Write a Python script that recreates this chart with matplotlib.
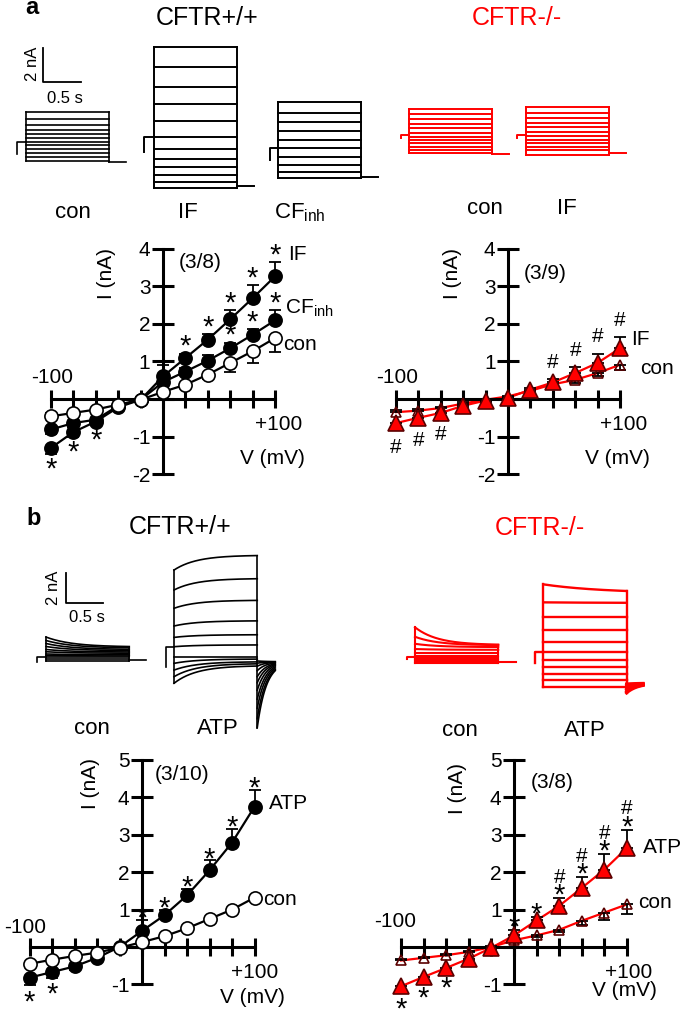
import numpy as np
import matplotlib.pyplot as plt

plt.rcParams['font.family'] = ['Liberation Sans', 'DejaVu Sans']
plt.rcParams['mathtext.default'] = 'regular'

RED = '#ff0000'

# ---------------- data (I in nA, V in mV) ----------------
V = np.arange(-100, 101, 20)

# panel a, CFTR+/+
a_con = [-0.46, -0.37, -0.28, -0.15, -0.02, 0.19, 0.38, 0.65, 0.96, 1.27, 1.62]
a_con_err = [0.08, 0.06, 0.05, 0.04, 0.03, 0.06, 0.08, 0.13, 0.25, 0.3, 0.38]
a_if = [-1.30, -0.88, -0.6, -0.22, -0.02, 0.60, 1.09, 1.58, 2.12, 2.68, 3.26]
a_if_err = [0.15, 0.12, 0.08, 0.05, 0.03, 0.3, 0.12, 0.15, 0.24, 0.34, 0.38]
a_cf = [-0.81, -0.64, -0.55, -0.18, -0.02, 0.45, 0.73, 1.02, 1.35, 1.71, 2.09]
a_cf_err = [0.12, 0.1, 0.07, 0.04, 0.03, 0.1, 0.1, 0.15, 0.15, 0.15, 0.28]
a_if_star = [1, 1, 1, 0, 0, 0, 1, 1, 1, 1, 1]
a_cf_star = [0, 0, 0, 0, 0, 0, 0, 1, 1, 1, 1]

# panel a, CFTR-/-
a_ko_con = [-0.35, -0.31, -0.24, -0.12, -0.02, 0.07, 0.22, 0.39, 0.51, 0.69, 0.91]
a_ko_con_err = [0.05, 0.05, 0.04, 0.03, 0.02, 0.03, 0.04, 0.05, 0.08, 0.09, 0.15]
a_ko_if = [-0.64, -0.5, -0.37, -0.18, -0.04, 0.03, 0.25, 0.44, 0.69, 0.96, 1.35]
a_ko_if_err = [0.18, 0.12, 0.1, 0.06, 0.03, 0.03, 0.05, 0.1, 0.15, 0.25, 0.3]
a_ko_if_hash = [1, 1, 1, 0, 0, 0, 0, 1, 1, 1, 1]

# panel b, CFTR+/+
b_con = [-0.45, -0.34, -0.24, -0.15, -0.02, 0.13, 0.29, 0.5, 0.75, 1.0, 1.32]
b_con_err = [0.03] * 11
b_atp = [-0.82, -0.67, -0.52, -0.29, 0.0, 0.43, 0.85, 1.38, 2.05, 2.79, 3.75]
b_atp_err = [0.2, 0.15, 0.1, 0.06, 0.04, 0.3, 0.15, 0.18, 0.27, 0.37, 0.46]
b_atp_star = [1, 1, 0, 0, 0, 1, 1, 1, 1, 1, 1]

# panel b, CFTR-/-
b_ko_con = [-0.36, -0.29, -0.22, -0.13, 0.0, 0.18, 0.31, 0.46, 0.7, 0.92, 1.14]
b_ko_con_err = [0.03, 0.03, 0.03, 0.03, 0.02, 0.05, 0.05, 0.06, 0.1, 0.2, 0.25]
b_ko_atp = [-1.05, -0.8, -0.56, -0.31, -0.02, 0.31, 0.71, 1.1, 1.58, 2.07, 2.65]
b_ko_atp_err = [0.18, 0.12, 0.1, 0.06, 0.04, 0.15, 0.1, 0.2, 0.29, 0.41, 0.49]
b_ko_atp_star = [1, 1, 1, 0, 0, 1, 1, 1, 1, 1, 1]
b_ko_atp_hash = [0, 0, 0, 0, 0, 0, 0, 1, 1, 1, 1]

# example current traces: step levels (nA, relative to holding)
tr_a_con = [1.76, 1.32, 0.98, 0.69, 0.44, 0.24, 0.0, -0.19, -0.43, -0.65, -0.88, -1.12]
tr_a_if = [5.33, 4.12, 2.98, 1.96, 0.96, 0.0, -0.69, -1.29, -1.76, -2.22, -2.61, -3.0]
tr_a_cf = [2.74, 2.06, 1.56, 1.02, 0.49, 0.0, -0.49, -0.98, -1.38, -1.76]
tr_a_ko_con = [1.51, 1.24, 0.92, 0.65, 0.39, 0.14, -0.1, -0.29, -0.49, -0.69, -0.88, -1.08]
tr_a_ko_if = [1.63, 1.3, 0.98, 0.7, 0.45, 0.18, -0.06, -0.27, -0.47, -0.68, -0.9, -1.18]

tr_b_con_on = [1.33, 1.1, 0.9, 0.7, 0.5, 0.35, 0.2, 0.1, 0.0, -0.12, -0.27]
tr_b_con_ss = [0.67, 0.6, 0.5, 0.42, 0.33, 0.25, 0.15, 0.07, 0.0, -0.12, -0.27]
tr_b_atp_on = [5.11, 3.78, 2.56, 1.38, 0.62, 0.0, -0.71, -1.11, -1.56, -2.0, -2.44]
tr_b_atp_ss = [6.1, 4.55, 3.1, 1.73, 0.8, 0.12, -0.71, -0.82, -1.0, -1.12, -1.26]
tr_b_atp_tail = [-5.4, -4.8, -4.1, -3.5, -2.9, -2.4, -2.0, -1.6, -1.3, -1.1, -0.95]
tr_b_ko_con_on = [2.0, 1.37, 0.9, 0.55, 0.3, 0.12, 0.0, -0.1, -0.2, -0.3, -0.4]
tr_b_ko_con_ss = [0.82, 0.8, 0.68, 0.5, 0.3, 0.12, 0.0, -0.1, -0.2, -0.3, -0.4]
tr_b_ko_atp_on = [4.49, 3.29, 2.33, 1.45, 0.67, 0.0, -0.55, -1.04, -1.49, -1.89, -2.33]
tr_b_ko_atp_ss = [3.9, 3.25, 2.33, 1.45, 0.67, 0.0, -0.55, -1.04, -1.49, -1.89, -2.33]
tr_b_ko_atp_tail = [-2.75, -2.65, -2.55, -2.45, -2.35, -2.25, -2.15]

# ---------------- figure ----------------
W, H = 685, 1010
fig = plt.figure(figsize=(6.85, 10.1), dpi=100)


def rect(left, top, width, height):
    return [left / W, 1 - (top + height) / H, width / W, height / H]


def ftext(x, y, s, va='center', **kw):
    fig.text(x / W, 1 - y / H, s, ha='center', va=va, **kw)


def trace_axes(x0, y0, spx, spy):
    xl, yl = (-0.3, 1.6), (-7, 7)
    ax = fig.add_axes(rect(x0 + xl[0] * spx, y0 - yl[1] * spy,
                           (xl[1] - xl[0]) * spx, (yl[1] - yl[0]) * spy))
    ax.set_xlim(xl)
    ax.set_ylim(yl)
    ax.axis('off')
    return ax


def family(ax, on, ss, tau, color, pre, dip, tails0, tail_ss, tail_tau,
           dur=1.09, tail_len=0.22, lw=1.2, tail_lw=None):
    t = np.linspace(0, dur, 200)
    ends = []
    for a, b in zip(on, ss):
        y = b + (a - b) * np.exp(-t / tau)
        ax.plot(t, y, color=color, lw=lw)
        ends.append(y[-1])
    tt = np.linspace(0, tail_len, 80)
    for a in tails0:
        ax.plot(dur + tt, tail_ss + (a - tail_ss) * np.exp(-tt / tail_tau), color=color,
                lw=tail_lw or lw)
    ax.plot([0, 0], [min(on), max(on)], color=color, lw=lw)
    ax.plot([dur, dur], [min(min(ends), min(tails0)), max(ends)], color=color, lw=lw)
    ax.plot([-pre, -pre, 0], [dip, 0, 0], color=color, lw=lw)


def scalebar(ax, t, y):
    ax.plot([t, t, t + 0.5], [y + 2, y, y], color='black', lw=1.3)


def iv_axes(ox, oy, sx, sy, yticks):
    xl = (-130, 130)
    yl = (yticks[0] - 0.5, yticks[-1] + 0.5)
    ax = fig.add_axes(rect(ox + xl[0] * sx, oy - yl[1] * sy,
                           (xl[1] - xl[0]) * sx, (yl[1] - yl[0]) * sy))
    ax.set_xlim(xl)
    ax.set_ylim(yl)
    ax.patch.set_visible(False)
    ax.spines['top'].set_visible(False)
    ax.spines['right'].set_visible(False)
    ax.spines['left'].set_position(('data', 0))
    ax.spines['bottom'].set_position(('data', 0))
    ax.spines['left'].set_bounds(yticks[0], yticks[-1])
    ax.spines['bottom'].set_bounds(-100, 100)
    ax.spines['left'].set_linewidth(2.2)
    ax.spines['bottom'].set_linewidth(2.2)
    ax.set_xticks(V)
    ax.set_xticklabels([])
    ax.set_yticks(yticks)
    ax.set_yticklabels(['' if v == 0 else str(v) for v in yticks])
    ax.tick_params(axis='x', direction='inout', length=13, width=2.2)
    ax.tick_params(axis='y', direction='inout', length=16, width=2.2, labelsize=15, pad=1)
    return ax


def series(ax, y, err, up, lcolor, marker, ms, mfc, mec):
    y = np.asarray(y)
    err = np.asarray(err)
    up = np.asarray(up, bool)
    ax.plot(V, y, color=lcolor, lw=1.6, zorder=2)
    ax.errorbar(V, y, yerr=[np.where(up, 0, err), np.where(up, err, 0)], fmt='none',
                ecolor='black', elinewidth=1.3, capsize=4, capthick=1.3, zorder=2.5)
    ax.plot(V, y, ls='none', marker=marker, ms=ms, mfc=mfc, mec=mec, mew=1.2, zorder=3)


def marks(ax, y, err, up, flags, s, dy_up, dy_dn, fs=21):
    for v, yy, e, u, f in zip(V, y, err, up, flags):
        if not f:
            continue
        base = yy + e if u else yy - e
        ax.annotate(s, (v, base), xytext=(0, dy_up if u else dy_dn), textcoords='offset points',
                    ha='center', va='baseline', fontsize=fs, zorder=4)


def iv_text(ax, x_m100, y_m100, x_p100, y_p100, x_v, y_v, xl, yl, n_text, xn, yn):
    ax.text(x_m100, y_m100, '-100', ha='center', va='center', fontsize=15)
    ax.text(x_p100, y_p100, '+100', ha='center', va='center', fontsize=15)
    ax.text(x_v, y_v, 'V (mV)', ha='center', va='center', fontsize=15)
    ax.text(xl, yl, 'I (nA)', ha='center', va='center', rotation=90, fontsize=15)
    ax.text(xn, yn, n_text, ha='center', va='center', fontsize=15)


neg = V < 0
pos0 = V >= 0

# ---------------- panel a ----------------
ftext(32, 14, 'a', va='baseline', fontsize=17, fontweight='bold')
ftext(207, 18, 'CFTR+/+', fontsize=18)
ftext(517, 18, 'CFTR-/-', fontsize=18, color=RED)

SA_X, SA_Y = 76, 17
ax = trace_axes(26, 141.7, SA_X, SA_Y)
family(ax, tr_a_con, tr_a_con, 1, 'black', 0.12, -0.72, [-1.18], -1.18, 1)
scalebar(ax, 0.22, 3.5)
ax.text(0.09, 4.6, '2 nA', rotation=90, ha='center', va='center', fontsize=12)
ax.text(0.51, 2.55, '0.5 s', ha='center', va='center', fontsize=12)
ax = trace_axes(154, 137.3, SA_X, SA_Y)
family(ax, tr_a_if, tr_a_if, 1, 'black', 0.13, -0.86, [-2.88], -2.88, 1, lw=1.4)
ax = trace_axes(278, 148.3, SA_X, SA_Y)
family(ax, tr_a_cf, tr_a_cf, 1, 'black', 0.1, -0.7, [-1.7], -1.7, 1, lw=1.4)
ax = trace_axes(409, 135, SA_X, SA_Y)
family(ax, tr_a_ko_con, tr_a_ko_con, 1, RED, 0.1, -0.2, [-1.12], -1.12, 1, lw=1.4)
ax = trace_axes(526, 135, SA_X, SA_Y)
family(ax, tr_a_ko_if, tr_a_ko_if, 1, RED, 0.12, -0.2, [-1.03], -1.03, 1, lw=1.4)

ftext(73, 213, 'con', fontsize=16)
ftext(188, 213, 'IF', fontsize=16)
ftext(300, 213, 'CF$_{inh}$', fontsize=16)
ftext(485, 208, 'con', fontsize=16)
ftext(567, 208, 'IF', fontsize=16)

# IV a, CFTR+/+
ax = iv_axes(163, 399, 1.12, 37.6, [-2, -1, 0, 1, 2, 3, 4])
series(ax, a_if, a_if_err, pos0, 'black', 'o', 9.5, 'black', 'black')
series(ax, a_cf, a_cf_err, pos0, 'black', 'o', 9.5, 'black', 'black')
series(ax, a_con, a_con_err, neg, 'black', 'o', 9.5, 'white', 'black')
marks(ax, a_if, a_if_err, pos0, a_if_star, '*', -1, -17)
marks(ax, a_cf, a_cf_err, pos0, a_cf_star, '*', -1, -17)
ax.text(112, 3.83, 'IF', ha='left', va='center', fontsize=15)
ax.text(109, 2.42, 'CF$_{inh}$', ha='left', va='center', fontsize=15)
ax.text(107, 1.44, 'con', ha='left', va='center', fontsize=15)
iv_text(ax, -99, 0.56, 103, -0.69, 98, -1.57, -50, 3.35, '(3/8)', 33, 3.64)

# IV a, CFTR-/-
ax = iv_axes(508, 399, 1.12, 37.6, [-2, -1, 0, 1, 2, 3, 4])
series(ax, a_ko_con, a_ko_con_err, neg, RED, '^', 7.5, 'none', '#5a0000')
series(ax, a_ko_if, a_ko_if_err, pos0, RED, '^', 11, RED, '#5a0000')
marks(ax, a_ko_if, a_ko_if_err, pos0, a_ko_if_hash, '#', 8, -17, fs=15)
ax.text(110, 1.57, 'IF', ha='left', va='center', fontsize=15)
ax.text(118, 0.82, 'con', ha='left', va='center', fontsize=15)
iv_text(ax, -99, 0.56, 103, -0.69, 98, -1.57, -50, 3.35, '(3/9)', 33, 3.35)

# ---------------- panel b ----------------
ftext(34, 525, 'b', va='baseline', fontsize=17, fontweight='bold')
ftext(180, 527, 'CFTR+/+', fontsize=18)
ftext(540, 528, 'CFTR-/-', fontsize=18, color=RED)

SB_X, SB_Y = 75, 15
ax = trace_axes(46, 657, SB_X, SB_Y)
family(ax, tr_b_con_on, tr_b_con_ss, 0.35, 'black', 0.12, -0.3, [-0.2], -0.2, 1, dur=1.11)
scalebar(ax, 0.26, 3.6)
ax.text(0.1, 4.6, '2 nA', rotation=90, ha='center', va='center', fontsize=12)
ax.text(0.55, 2.6, '0.5 s', ha='center', va='center', fontsize=12)
ax = trace_axes(174, 646.7, SB_X, SB_Y)
family(ax, tr_b_atp_on, tr_b_atp_ss, 0.3, 'black', 0.11, -1.33,
       tr_b_atp_tail, -1.0, 0.12, dur=1.11, tail_len=0.24)
ax = trace_axes(415, 657.3, SB_X, SB_Y)
family(ax, tr_b_ko_con_on, tr_b_ko_con_ss, 0.3, RED, 0.11, -0.13, [-0.31], -0.31, 1,
       dur=1.11, tail_len=0.23, lw=1.5)
ax = trace_axes(543.3, 651.7, SB_X, SB_Y)
family(ax, tr_b_ko_atp_on, tr_b_ko_atp_ss, 0.8, RED, 0.11, -0.77,
       tr_b_ko_atp_tail, -2.1, 0.15, dur=1.11, lw=1.7, tail_lw=2.2)

ftext(92, 728, 'con', fontsize=16)
ftext(218, 728, 'ATP', fontsize=16)
ftext(460, 730, 'con', fontsize=16)
ftext(585, 730, 'ATP', fontsize=16)

# IV b, CFTR+/+
ax = iv_axes(142, 947, 1.125, 37.4, [-1, 0, 1, 2, 3, 4, 5])
series(ax, b_atp, b_atp_err, pos0, 'black', 'o', 9.5, 'black', 'black')
series(ax, b_con, b_con_err, neg, 'black', 'o', 9.5, 'white', 'black')
marks(ax, b_atp, b_atp_err, pos0, b_atp_star, '*', -5, -18)
ax.text(113, 3.85, 'ATP', ha='left', va='center', fontsize=15)
ax.text(108, 1.28, 'con', ha='left', va='center', fontsize=15)
iv_text(ax, -104, 0.51, 100, -0.67, 98, -1.34, -46, 4.38, '(3/10)', 36, 4.6)

# IV b, CFTR-/-
ax = iv_axes(514, 947, 1.13, 37.4, [-1, 0, 1, 2, 3, 4, 5])
series(ax, b_ko_con, b_ko_con_err, neg, RED, '^', 7.5, 'none', '#5a0000')
series(ax, b_ko_atp, b_ko_atp_err, pos0, RED, '^', 11, RED, '#5a0000')
marks(ax, b_ko_atp, b_ko_atp_err, pos0, b_ko_atp_star, '*', -4, -18)
marks(ax, b_ko_atp, b_ko_atp_err, pos0, b_ko_atp_hash, '#', 11, -17, fs=15)
ax.text(114, 2.67, 'ATP', ha='left', va='center', fontsize=15)
ax.text(110, 1.18, 'con', ha='left', va='center', fontsize=15)
iv_text(ax, -105, 0.67, 101, -0.67, 98, -1.15, -50, 4.25, '(3/8)', 34, 4.41)

fig.savefig('out.png', dpi=100)
